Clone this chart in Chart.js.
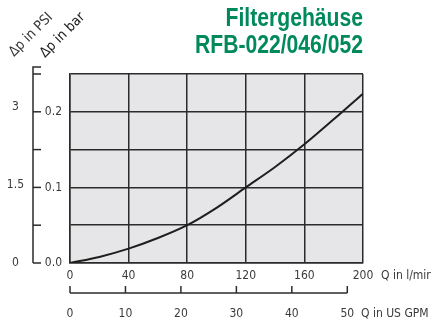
<!DOCTYPE html>
<html>
<head>
<meta charset="utf-8">
<script src="https://cdn.jsdelivr.net/npm/chart.js@4"></script>
<style>
  html, body { margin: 0; padding: 0; background: #fff; }
  #wrap { width: 431px; height: 325px; }
</style>
</head>
<body>
<div id="wrap"><canvas id="filterChart" width="431" height="325"></canvas></div>
<script>
// Q in l/min and pressure drop in bar
const flowLpm = [0, 20, 40, 60, 80, 100, 120, 140, 160, 180, 200];
const dpBar = [0, 0.008, 0.019, 0.033, 0.05, 0.073, 0.1, 0.127, 0.157, 0.19, 0.224];

const lpmTicks = [0, 40, 80, 120, 160, 200];
const gpmTicks = [0, 10, 20, 30, 40, 50];
const barTicks = [0, 0.05, 0.1, 0.15, 0.2, 0.25];
const barLabels = [0, 0.1, 0.2];
const psiTicks = [0, 1.5, 3];

const titleLines = ['Filtergehäuse', 'RFB-022/046/052'];
const LPM_PER_GPM = 3.785411784;
const PSI_PER_BAR = 14.5038;

const FONT = "'DejaVu Sans Condensed', 'Liberation Sans', sans-serif";
const TITLE_FONT = "'Liberation Sans', Arial, sans-serif";
const GRID = '#2b2b2b';
const TEXT = '#3a3a3a';

Chart.defaults.font.family = FONT;
Chart.defaults.font.size = 12;
Chart.defaults.color = TEXT;

const decoPlugin = {
    id: 'deco',
    beforeDraw(chart) {
        const { ctx, chartArea: a } = chart;
        ctx.save();
        ctx.fillStyle = '#e6e6e8';
        ctx.fillRect(a.left, a.top, a.right - a.left, a.bottom - a.top);
        ctx.restore();
    },
    afterDraw(chart) {
        const { ctx } = chart;
        const y = chart.scales.y;
        const gpm = chart.scales.gpm;
        ctx.save();
        ctx.strokeStyle = GRID;
        ctx.lineWidth = 1.5;

        // bracket axis for bar on the left
        const bx = 33;
        const yTop = y.getPixelForValue(barTicks[barTicks.length - 1]) - 7;
        ctx.beginPath();
        ctx.moveTo(bx + 8, yTop);
        ctx.lineTo(bx, yTop);
        ctx.lineTo(bx, y.getPixelForValue(0));
        ctx.stroke();
        barTicks.forEach(v => {
            const py = y.getPixelForValue(v);
            ctx.beginPath();
            ctx.moveTo(bx, py);
            ctx.lineTo(bx + 8, py);
            ctx.stroke();
        });

        // bracket axis for US GPM
        const gy = gpm.top + 8;
        ctx.beginPath();
        ctx.moveTo(gpm.getPixelForValue(gpmTicks[0]), gy);
        ctx.lineTo(gpm.getPixelForValue(gpmTicks[gpmTicks.length - 1]), gy);
        ctx.stroke();
        gpmTicks.forEach(v => {
            const px = gpm.getPixelForValue(v);
            ctx.beginPath();
            ctx.moveTo(px, gy);
            ctx.lineTo(px, gy - 7);
            ctx.stroke();
        });

        // axis names
        ctx.fillStyle = TEXT;
        ctx.font = '12px ' + FONT;
        ctx.textBaseline = 'middle';
        ctx.textAlign = 'left';
        ctx.fillText('Q in l/min', 381, 276);
        ctx.fillText('Q in US GPM', 361, 314);

        ctx.font = '14px ' + FONT;
        ctx.save();
        ctx.translate(14, 57);
        ctx.rotate(-Math.PI / 4);
        ctx.textBaseline = 'alphabetic';
        ctx.fillText('Δp in PSI', 0, 0);
        ctx.restore();

        ctx.save();
        ctx.translate(45, 58);
        ctx.rotate(-Math.PI / 4);
        ctx.textBaseline = 'alphabetic';
        ctx.fillStyle = '#222';
        ctx.fillText('Δp in bar', 0, 0);
        ctx.restore();

        // title, narrowed to the width of the original condensed face
        ctx.fillStyle = '#008a5c';
        ctx.font = 'bold 25px ' + TITLE_FONT;
        ctx.textAlign = 'right';
        ctx.textBaseline = 'alphabetic';
        const sx = 168 / ctx.measureText(titleLines[1]).width;
        ctx.save();
        ctx.translate(363, 0);
        ctx.scale(sx, 1);
        ctx.fillText(titleLines[0], 0, 26);
        ctx.fillText(titleLines[1], 0, 53);
        ctx.restore();
        ctx.restore();
    }
};

const data = {
    datasets: [{
        data: flowLpm.map((q, i) => ({ x: q, y: dpBar[i] })),
        borderColor: '#1e1e1e',
        borderWidth: 2,
        pointRadius: 0,
        fill: false,
        cubicInterpolationMode: 'monotone'
    }]
};

const config = {
    type: 'line',
    data: data,
    options: {
        responsive: false,
        animation: false,
        layout: { padding: { left: 0, right: 68, top: 74, bottom: 4 } },
        plugins: {
            legend: { display: false },
            tooltip: { enabled: false }
        },
        scales: {
            x: {
                type: 'linear',
                position: 'bottom',
                min: 0,
                max: 200,
                afterBuildTicks: s => { s.ticks = lpmTicks.map(v => ({ value: v })); },
                afterFit: s => { s.height = 22; },
                ticks: { padding: 6, color: TEXT },
                grid: { color: GRID, lineWidth: 1.5, drawTicks: false },
                border: { color: GRID, width: 1.5 }
            },
            gpm: {
                type: 'linear',
                position: 'bottom',
                min: 0,
                max: 200 / LPM_PER_GPM,
                afterBuildTicks: s => { s.ticks = gpmTicks.map(v => ({ value: v })); },
                afterFit: s => { s.height = 36; },
                ticks: { padding: 22, color: TEXT },
                grid: { display: false, drawTicks: false },
                border: { display: false }
            },
            y: {
                type: 'linear',
                position: 'left',
                min: 0,
                max: 0.25,
                afterBuildTicks: s => { s.ticks = barTicks.map(v => ({ value: v })); },
                afterFit: s => { s.width = 36; },
                ticks: {
                    padding: 8,
                    color: TEXT,
                    callback: v => barLabels.some(b => Math.abs(b - v) < 1e-9) ? v.toFixed(1) : ''
                },
                grid: { color: GRID, lineWidth: 1.5, drawTicks: false },
                border: { color: GRID, width: 1.5 }
            },
            psi: {
                type: 'linear',
                position: 'left',
                min: 0,
                max: 0.25 * PSI_PER_BAR,
                afterBuildTicks: s => { s.ticks = psiTicks.map(v => ({ value: v })); },
                afterFit: s => { s.width = 34; },
                ticks: { padding: 10, crossAlign: 'center', color: TEXT },
                grid: { display: false, drawTicks: false },
                border: { display: false }
            }
        }
    },
    plugins: [decoPlugin]
};

const filterChart = new Chart('filterChart', config);
</script>
</body>
</html>
